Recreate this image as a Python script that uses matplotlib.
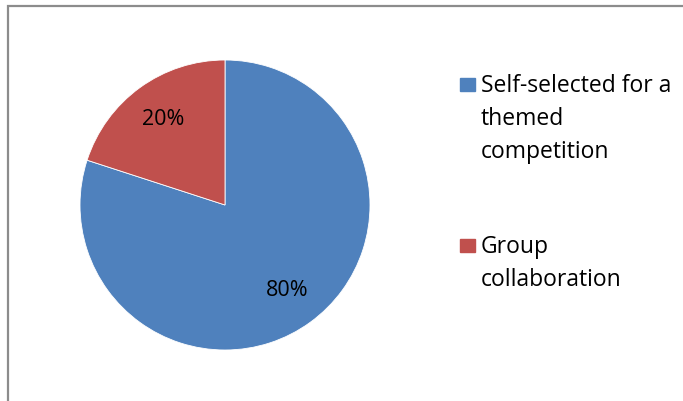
import matplotlib.pyplot as plt
from matplotlib.patches import Rectangle

plt.rcParams['font.family'] = ['Open Sans', 'DejaVu Sans']

# Survey shares
categories = ['Self-selected for a\nthemed\ncompetition', 'Group\ncollaboration']
shares = [80, 20]
colors = ['#4F81BD', '#C0504D']

W, H = 683, 401
fig = plt.figure(figsize=(W / 100, H / 100), dpi=100)

# frame of the chart area (only top and left show)
fig.patches.append(Rectangle((7.5 / W, -0.1), 1.2, 1.1 - 5.5 / H,
                             transform=fig.transFigure, fill=False,
                             edgecolor='#8c8c8c', linewidth=1.6))

ax = fig.add_axes([80 / W, 51 / H, 290 / W, 290 / H])
wedges, texts, autotexts = ax.pie(shares, colors=colors, startangle=90,
                                  counterclock=False, autopct='%d%%',
                                  pctdistance=0.73,
                                  wedgeprops=dict(edgecolor='white', linewidth=0.6),
                                  textprops=dict(fontsize=15.5, color='black'))
ax.set_xlim(-1, 1)
ax.set_ylim(-1, 1)
ax.set_aspect('equal')

# legend drawn by hand: square next to the first line of each label
tops = [78, 239]
for lab, col, top in zip(categories, colors, tops):
    fig.patches.append(Rectangle((460 / W, 1 - (top + 13) / H), 15 / W, 13 / H,
                                 transform=fig.transFigure, color=col))
    fig.text(481 / W, 1 - (top - 4) / H, lab, fontsize=16.5, va='top', ha='left',
             linespacing=1.5)

fig.savefig('out.png', dpi=100)
